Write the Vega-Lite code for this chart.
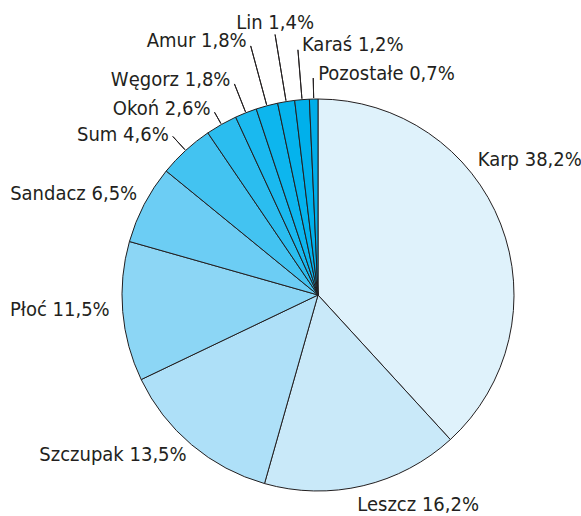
{
  "$schema": "https://vega.github.io/schema/vega-lite/v6.json",
  "width": 392,
  "height": 392,
  "autosize": "none",
  "padding": {"left": 122, "top": 99, "right": 67, "bottom": 25},
  "background": "white",
  "config": {"view": {"stroke": null}},
  "data": {
    "values": [
      {"name": "Karp", "value": 38.2, "label": "Karp 38,2%"},
      {"name": "Leszcz", "value": 16.2, "label": "Leszcz 16,2%"},
      {"name": "Szczupak", "value": 13.5, "label": "Szczupak 13,5%"},
      {"name": "Płoć", "value": 11.5, "label": "Płoć 11,5%"},
      {"name": "Sandacz", "value": 6.5, "label": "Sandacz 6,5%"},
      {"name": "Sum", "value": 4.6, "label": "Sum 4,6%"},
      {"name": "Okoń", "value": 2.6, "label": "Okoń 2,6%"},
      {"name": "Węgorz", "value": 1.8, "label": "Węgorz 1,8%"},
      {"name": "Amur", "value": 1.8, "label": "Amur 1,8%"},
      {"name": "Lin", "value": 1.4, "label": "Lin 1,4%"},
      {"name": "Karaś", "value": 1.2, "label": "Karaś 1,2%"},
      {"name": "Pozostałe", "value": 0.7, "label": "Pozostałe 0,7%"}
    ]
  },
  "transform": [
    {"stack": "value", "groupby": [], "as": ["v0", "v1"]},
    {"calculate": "(datum.v0 + datum.v1) / 2", "as": "mid"}
  ],
  "layer": [
    {
      "mark": {"type": "arc", "radius": 196, "stroke": "#231f20", "strokeWidth": 1},
      "encoding": {
        "theta": {"field": "v0", "type": "quantitative", "scale": {"domain": [0, 100]}},
        "theta2": {"field": "v1"},
        "color": {
          "field": "name", "type": "nominal", "legend": null,
          "scale": {
            "domain": ["Karp", "Leszcz", "Szczupak", "Płoć", "Sandacz", "Sum", "Okoń", "Węgorz", "Amur", "Lin", "Karaś", "Pozostałe"],
            "range": ["#dff2fb", "#c9e9f9", "#aee0f8", "#8cd6f5", "#6ccdf4", "#43c3f1", "#2bbdef", "#1ab9ef", "#0db6ee", "#04b3ed", "#00b0eb", "#00ade9"]
          }
        }
      }
    },
    {
      "transform": [{"filter": "datum.name === 'Karp'"}],
      "mark": {"type": "text", "radius": 196, "align": "left", "baseline": "middle", "dx": -23, "dy": -64, "font": "Liberation Sans Narrow, Arial Narrow, DejaVu Sans Condensed, sans-serif", "fontSize": 20, "fill": "#231f20"},
      "encoding": {"theta": {"field": "mid", "type": "quantitative", "scale": {"domain": [0, 100]}}, "text": {"field": "label"}}
    },
    {
      "transform": [{"filter": "datum.name === 'Leszcz'"}],
      "mark": {"type": "text", "radius": 196, "align": "center", "baseline": "middle", "dx": 55, "dy": 19, "font": "Liberation Sans Narrow, Arial Narrow, DejaVu Sans Condensed, sans-serif", "fontSize": 20, "fill": "#231f20"},
      "encoding": {"theta": {"field": "mid", "type": "quantitative", "scale": {"domain": [0, 100]}}, "text": {"field": "label"}}
    },
    {
      "transform": [{"filter": "datum.name === 'Szczupak'"}],
      "mark": {"type": "text", "radius": 196, "align": "right", "baseline": "middle", "dx": -5, "dy": 10, "font": "Liberation Sans Narrow, Arial Narrow, DejaVu Sans Condensed, sans-serif", "fontSize": 20, "fill": "#231f20"},
      "encoding": {"theta": {"field": "mid", "type": "quantitative", "scale": {"domain": [0, 100]}}, "text": {"field": "label"}}
    },
    {
      "transform": [{"filter": "datum.name === 'Płoć'"}],
      "mark": {"type": "text", "radius": 196, "align": "right", "baseline": "middle", "dx": -13, "dy": -2, "font": "Liberation Sans Narrow, Arial Narrow, DejaVu Sans Condensed, sans-serif", "fontSize": 20, "fill": "#231f20"},
      "encoding": {"theta": {"field": "mid", "type": "quantitative", "scale": {"domain": [0, 100]}}, "text": {"field": "label"}}
    },
    {
      "transform": [{"filter": "datum.name === 'Sandacz'"}],
      "mark": {"type": "text", "radius": 196, "align": "right", "baseline": "middle", "dx": -7, "dy": -10, "font": "Liberation Sans Narrow, Arial Narrow, DejaVu Sans Condensed, sans-serif", "fontSize": 20, "fill": "#231f20"},
      "encoding": {"theta": {"field": "mid", "type": "quantitative", "scale": {"domain": [0, 100]}}, "text": {"field": "label"}}
    },
    {
      "transform": [{"filter": "datum.name === 'Sum'"}],
      "layer": [
        {"mark": {"type": "arc", "radius": 215, "radius2": 197, "stroke": "#231f20", "strokeWidth": 1, "fillOpacity": 0},
         "encoding": {"theta": {"field": "mid", "type": "quantitative", "scale": {"domain": [0, 100]}}, "theta2": {"field": "mid"}}},
        {"mark": {"type": "text", "radius": 215, "align": "right", "baseline": "middle", "dx": -4, "dy": -1, "font": "Liberation Sans Narrow, Arial Narrow, DejaVu Sans Condensed, sans-serif", "fontSize": 20, "fill": "#231f20"},
         "encoding": {"theta": {"field": "mid", "type": "quantitative", "scale": {"domain": [0, 100]}}, "text": {"field": "label"}}}
      ]
    },
    {
      "transform": [{"filter": "datum.name === 'Okoń'"}],
      "layer": [
        {"mark": {"type": "arc", "radius": 210, "radius2": 197, "stroke": "#231f20", "strokeWidth": 1, "fillOpacity": 0},
         "encoding": {"theta": {"field": "mid", "type": "quantitative", "scale": {"domain": [0, 100]}}, "theta2": {"field": "mid"}}},
        {"mark": {"type": "text", "radius": 210, "align": "right", "baseline": "middle", "dx": -4, "dy": -3, "font": "Liberation Sans Narrow, Arial Narrow, DejaVu Sans Condensed, sans-serif", "fontSize": 20, "fill": "#231f20"},
         "encoding": {"theta": {"field": "mid", "type": "quantitative", "scale": {"domain": [0, 100]}}, "text": {"field": "label"}}}
      ]
    },
    {
      "transform": [{"filter": "datum.name === 'Węgorz'"}],
      "layer": [
        {"mark": {"type": "arc", "radius": 227, "radius2": 197, "stroke": "#231f20", "strokeWidth": 1, "fillOpacity": 0},
         "encoding": {"theta": {"field": "mid", "type": "quantitative", "scale": {"domain": [0, 100]}}, "theta2": {"field": "mid"}}},
        {"mark": {"type": "text", "radius": 227, "align": "right", "baseline": "middle", "dx": -4, "dy": -4, "font": "Liberation Sans Narrow, Arial Narrow, DejaVu Sans Condensed, sans-serif", "fontSize": 20, "fill": "#231f20"},
         "encoding": {"theta": {"field": "mid", "type": "quantitative", "scale": {"domain": [0, 100]}}, "text": {"field": "label"}}}
      ]
    },
    {
      "transform": [{"filter": "datum.name === 'Amur'"}],
      "layer": [
        {"mark": {"type": "arc", "radius": 258, "radius2": 197, "stroke": "#231f20", "strokeWidth": 1, "fillOpacity": 0},
         "encoding": {"theta": {"field": "mid", "type": "quantitative", "scale": {"domain": [0, 100]}}, "theta2": {"field": "mid"}}},
        {"mark": {"type": "text", "radius": 258, "align": "right", "baseline": "middle", "dx": -4, "dy": -5, "font": "Liberation Sans Narrow, Arial Narrow, DejaVu Sans Condensed, sans-serif", "fontSize": 20, "fill": "#231f20"},
         "encoding": {"theta": {"field": "mid", "type": "quantitative", "scale": {"domain": [0, 100]}}, "text": {"field": "label"}}}
      ]
    },
    {
      "transform": [{"filter": "datum.name === 'Lin'"}],
      "layer": [
        {"mark": {"type": "arc", "radius": 264, "radius2": 197, "stroke": "#231f20", "strokeWidth": 1, "fillOpacity": 0},
         "encoding": {"theta": {"field": "mid", "type": "quantitative", "scale": {"domain": [0, 100]}}, "theta2": {"field": "mid"}}},
        {"mark": {"type": "text", "radius": 264, "align": "center", "baseline": "middle", "dx": 0, "dy": -12, "font": "Liberation Sans Narrow, Arial Narrow, DejaVu Sans Condensed, sans-serif", "fontSize": 20, "fill": "#231f20"},
         "encoding": {"theta": {"field": "mid", "type": "quantitative", "scale": {"domain": [0, 100]}}, "text": {"field": "label"}}}
      ]
    },
    {
      "transform": [{"filter": "datum.name === 'Karaś'"}],
      "layer": [
        {"mark": {"type": "arc", "radius": 246, "radius2": 197, "stroke": "#231f20", "strokeWidth": 1, "fillOpacity": 0},
         "encoding": {"theta": {"field": "mid", "type": "quantitative", "scale": {"domain": [0, 100]}}, "theta2": {"field": "mid"}}},
        {"mark": {"type": "text", "radius": 246, "align": "left", "baseline": "middle", "dx": 4, "dy": -5, "font": "Liberation Sans Narrow, Arial Narrow, DejaVu Sans Condensed, sans-serif", "fontSize": 20, "fill": "#231f20"},
         "encoding": {"theta": {"field": "mid", "type": "quantitative", "scale": {"domain": [0, 100]}}, "text": {"field": "label"}}}
      ]
    },
    {
      "transform": [{"filter": "datum.name === 'Pozostałe'"}],
      "layer": [
        {"mark": {"type": "arc", "radius": 217, "radius2": 197, "stroke": "#231f20", "strokeWidth": 1, "fillOpacity": 0},
         "encoding": {"theta": {"field": "mid", "type": "quantitative", "scale": {"domain": [0, 100]}}, "theta2": {"field": "mid"}}},
        {"mark": {"type": "text", "radius": 217, "align": "left", "baseline": "middle", "dx": 5, "dy": -4, "font": "Liberation Sans Narrow, Arial Narrow, DejaVu Sans Condensed, sans-serif", "fontSize": 20, "fill": "#231f20"},
         "encoding": {"theta": {"field": "mid", "type": "quantitative", "scale": {"domain": [0, 100]}}, "text": {"field": "label"}}}
      ]
    }
  ]
}
